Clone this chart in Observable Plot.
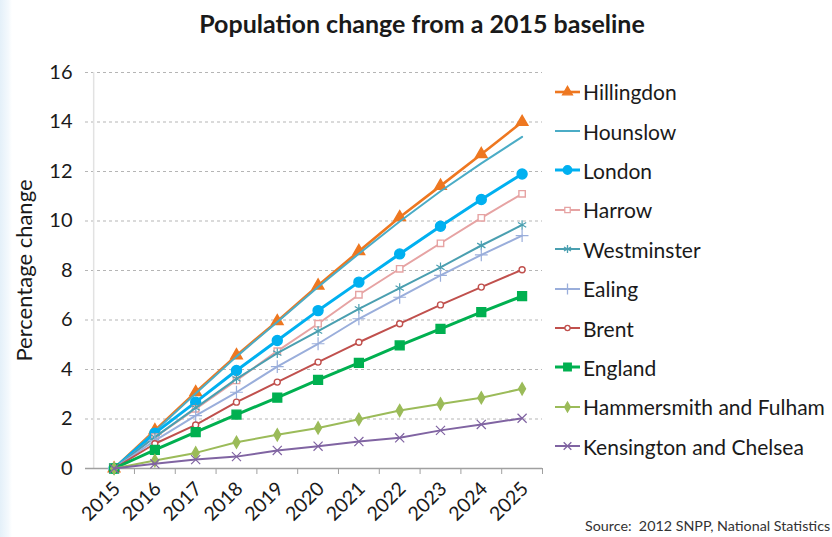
<!DOCTYPE html>
<html>
<head>
<meta charset="utf-8">
<script src="https://cdn.jsdelivr.net/npm/d3@7"></script>
<script src="https://cdn.jsdelivr.net/npm/@observablehq/plot@0.6"></script>
<style>
  html, body { margin: 0; padding: 0; background: #fff; }
  #wrap { position: relative; width: 832px; height: 537px; overflow: hidden; font-family: Lato, "Open Sans", sans-serif; color: #1a1a1a; }
  #edge { position: absolute; left: 0; top: 0; width: 12px; height: 537px; background: linear-gradient(to right, #e4f0f9, #f4f9fd 70%, #fff); }
  #title { position: absolute; left: 0; width: 832px; top: 8px; text-align: center; font-weight: bold; font-size: 25px; margin-left: 6px; }
  #chart { position: absolute; left: 0; top: 50px; }
  #legend { position: absolute; left: 554px; top: 72px; }
  .row { display: flex; align-items: center; height: 39.4px; font-size: 21px; white-space: nowrap; }
  .row svg { margin-right: 2px; }
  #source { position: absolute; left: 585px; top: 517px; font-size: 14.3px; color: #333; }
</style>
</head>
<body>
<div id="wrap">
  <div id="edge"></div>
  <div id="title">Population change from a 2015 baseline</div>
  <div id="chart"></div>
  <div id="legend"></div>
  <div id="source">Source:&nbsp; 2012 SNPP, National Statistics</div>
</div>
<script>
// Percentage change in population relative to 2015 (2012-based SNPP)
const years = [2015, 2016, 2017, 2018, 2019, 2020, 2021, 2022, 2023, 2024, 2025];
const hillingdon  = [0, 1.54, 3.08, 4.57, 5.95, 7.39, 8.78, 10.15, 11.42, 12.70, 14.00];
const hounslow    = [0, 1.50, 3.03, 4.52, 5.92, 7.33, 8.68, 9.98, 11.20, 12.33, 13.40];
const london      = [0, 1.43, 2.68, 3.96, 5.17, 6.38, 7.53, 8.67, 9.79, 10.87, 11.90];
const harrow      = [0, 1.27, 2.41, 3.56, 4.74, 5.85, 7.02, 8.07, 9.10, 10.13, 11.10];
const westminster = [0, 1.27, 2.45, 3.62, 4.66, 5.55, 6.45, 7.29, 8.13, 9.01, 9.84];
const ealing      = [0, 1.13, 2.14, 3.08, 4.12, 5.04, 6.05, 6.92, 7.80, 8.63, 9.41];
const brent       = [0, 1.00, 1.76, 2.68, 3.49, 4.30, 5.10, 5.85, 6.61, 7.33, 8.03];
const england     = [0, 0.75, 1.47, 2.18, 2.86, 3.58, 4.27, 4.97, 5.64, 6.32, 6.96];
const hammersmith = [0, 0.32, 0.63, 1.06, 1.36, 1.64, 1.99, 2.34, 2.61, 2.86, 3.22];
const kensington  = [0, 0.19, 0.36, 0.48, 0.73, 0.90, 1.09, 1.24, 1.54, 1.78, 2.03];

const seriesNames = ["Hillingdon", "Hounslow", "London", "Harrow", "Westminster", "Ealing",
  "Brent", "England", "Hammersmith and Fulham", "Kensington and Chelsea"];
const seriesValues = [hillingdon, hounslow, london, harrow, westminster, ealing,
  brent, england, hammersmith, kensington];
const yTicks = [0, 2, 4, 6, 8, 10, 12, 14, 16];

// Line and marker styling per series
const styles = {
  "Hillingdon":             {color: "#ee7720", width: 2.6, symbol: "triangle", r: 4.3, filled: true},
  "Hounslow":               {color: "#4bacc6", width: 2,   symbol: null},
  "London":                 {color: "#00b0f0", width: 3,   symbol: "circle", r: 5, filled: true},
  "Harrow":                 {color: "#e6a3a3", width: 2,   symbol: "square", r: 3.6, filled: false},
  "Westminster":            {color: "#4a9fb0", width: 2,   symbol: "asterisk", r: 4.5, filled: false},
  "Ealing":                 {color: "#9aaedb", width: 2,   symbol: "plus", r: 4.2, filled: false},
  "Brent":                  {color: "#c0504d", width: 2,   symbol: "circle", r: 3, filled: false},
  "England":                {color: "#00b050", width: 3,   symbol: "square", r: 5, filled: true},
  "Hammersmith and Fulham": {color: "#9bbb59", width: 2,   symbol: "diamond", r: 3.6, filled: true},
  "Kensington and Chelsea": {color: "#8064a2", width: 2,   symbol: "times", r: 4.2, filled: false}
};

const rows = seriesNames.flatMap((name, i) =>
  years.map((year, j) => ({name, year, value: seriesValues[i][j]})));

// Category boundaries for the tick marks under the axis
const boundaries = years.map(y => y + 0.5);

const marks = [
  Plot.ruleY(yTicks.filter(d => d > 0), {stroke: "#b5b5b5", strokeDasharray: "3,3"}),
  Plot.ruleX([years[0] - 0.5], {stroke: "#e2e2e2", strokeWidth: 1.5}),
  Plot.ruleY([0], {stroke: "#a0a0a0", strokeWidth: 1.5}),
  Plot.axisX({ticks: boundaries, tickSize: 6, tickFormat: () => "", stroke: "#a0a0a0", label: null}),
  Plot.axisX({ticks: years, tickSize: 0, tickPadding: 17, tickRotate: -45, tickFormat: d => String(d),
    fontSize: 19.5, fill: "#1a1a1a", dx: 3, label: null}),
  Plot.axisY({ticks: yTicks, tickSize: 0, tickPadding: 13, fontSize: 20, fill: "#1a1a1a",
    label: "Percentage change", labelAnchor: "center", labelArrow: "none", labelOffset: 69})
];

for (const name of seriesNames) {
  const s = styles[name];
  const data = rows.filter(d => d.name === name);
  marks.push(Plot.line(data, {x: "year", y: "value", stroke: s.color, strokeWidth: s.width}));
  if (s.symbol) {
    const stroked = ["asterisk", "plus", "times"].includes(s.symbol);
    marks.push(Plot.dot(data, {
      x: "year", y: "value", symbol: () => s.symbol, r: s.r,
      fill: s.filled ? s.color : (stroked ? "none" : "white"),
      stroke: s.color, strokeWidth: stroked ? 1.2 : 1.4
    }));
  }
}

const chart = Plot.plot({
  width: 832,
  height: 487,
  marginTop: 22,
  marginBottom: 69,
  marginLeft: 85,
  marginRight: 290,
  style: {fontFamily: "Lato, 'Open Sans', sans-serif", background: "transparent"},
  x: {type: "linear", domain: [2014.3, 2025.5]},
  y: {domain: [0, 16]},
  symbol: {type: "identity"},
  marks
});
// Larger axis title than the tick labels
chart.querySelectorAll("g[aria-label='y-axis label']").forEach(g => {
  g.setAttribute("font-size", "22");
});
document.getElementById("chart").append(chart);

// Legend: line swatch with the series marker, then the name
const symbolTypes = {
  triangle: d3.symbolTriangle, circle: d3.symbolCircle, square: d3.symbolSquare,
  asterisk: d3.symbolAsterisk, plus: d3.symbolPlus, diamond: d3.symbolDiamond, times: d3.symbolTimes
};
const legend = d3.select("#legend");
for (const name of seriesNames) {
  const s = styles[name];
  const row = legend.append("div").attr("class", "row");
  const sw = row.append("svg").attr("width", 27).attr("height", 16);
  sw.append("line").attr("x1", 1).attr("x2", 26).attr("y1", 8).attr("y2", 8)
    .attr("stroke", s.color).attr("stroke-width", s.width);
  if (s.symbol) {
    const stroked = ["asterisk", "plus", "times"].includes(s.symbol);
    const r = s.r * 0.85;
    sw.append("path")
      .attr("transform", "translate(13.5,8)")
      .attr("d", d3.symbol(symbolTypes[s.symbol], r * r * Math.PI)())
      .attr("fill", s.filled ? s.color : (stroked ? "none" : "white"))
      .attr("stroke", s.color).attr("stroke-width", 1.3);
  }
  row.append("span").text(name);
}
</script>
</body>
</html>
